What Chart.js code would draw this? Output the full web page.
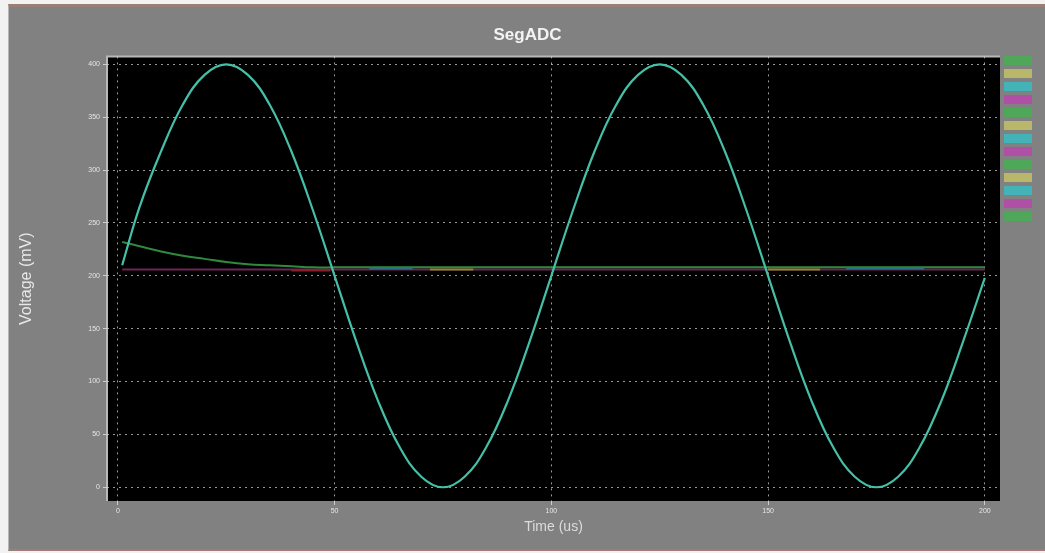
<!DOCTYPE html>
<html>
<head>
<meta charset="utf-8">
<title>SegADC</title>
<script src="https://cdn.jsdelivr.net/npm/chart.js@4.4.1/dist/chart.umd.min.js"></script>
<style>
  html, body { margin: 0; padding: 0; background: #f2f2f2; }
  #panel {
    position: absolute;
    left: 8px; top: 4px;
    width: 1037px; height: 542px;
    background: #818181;
    border-top: 3px solid #9c7f74;
    border-bottom: 2px solid #a07c78;
    border-left: 1px solid #b5b5b5;
  }
  #wrap { position: absolute; left: 0; top: 2px; width: 1037px; height: 540px; }
</style>
</head>
<body>
<div id="panel"><div id="wrap"><canvas id="chart"></canvas></div></div>
<script>
// time axis (us)
const timeTicks = [0, 50, 100, 150, 200]
const voltTicks = [0, 50, 100, 150, 200, 250, 300, 350, 400]

// main sine-like trace
const sineTime = [1, 5, 10, 15, 20, 25, 30, 35, 40, 45, 50, 55, 60, 65, 70, 75, 80, 85, 90, 95, 100,
  105, 110, 115, 120, 125, 130, 135, 140, 145, 150, 155, 160, 165, 170, 175, 180, 185, 190, 195, 200]
const sineVolt = [210, 265, 318, 362, 390, 400, 390, 362, 318, 262, 200, 138, 82, 38, 10, 0, 10, 38, 82, 138, 200,
  262, 318, 362, 390, 400, 390, 362, 318, 262, 200, 138, 82, 38, 10, 0, 10, 38, 82, 138, 198]

// green settling trace
const greenTime = [1, 5, 10, 15, 20, 25, 30, 35, 40, 45, 50, 75, 100, 125, 150, 175, 200]
const greenVolt = [232, 228, 223, 219, 216, 213, 211, 210, 209, 208, 208, 208, 208, 208, 208, 208, 208]

// flat purple baseline
const purpleTime = [1, 50, 100, 150, 200]
const purpleVolt = [206, 206, 206, 206, 206]

// short coloured segments on the baseline
const yellowTime = [72, 82, 83, 150, 162]
const yellowVolt = [206, 206, null, 206, 206]
const cyanTime = [58, 68, 69, 168, 186]
const cyanVolt = [207, 207, null, 207, 207]
const redTime = [40, 49]
const redVolt = [205, 205]

// legend swatches on the right
const legendColors = ['#4fa85a', '#b9b86a', '#44b3b8', '#b04fa6', '#4fa85a', '#b9b86a', '#44b3b8',
  '#b04fa6', '#4fa85a', '#b9b86a', '#44b3b8', '#b04fa6', '#4fa85a']

function pts(xs, ys) {
  return xs.map((x, i) => ({ x: x, y: ys[i] }))
}

// black plot area with light frame
const plotBg = {
  id: 'plotBg',
  beforeDraw(chart) {
    const { ctx, chartArea: a } = chart
    ctx.save()
    ctx.fillStyle = '#000'
    ctx.fillRect(a.left, a.top, a.right - a.left, a.bottom - a.top)
    ctx.strokeStyle = '#b8b8b8'
    ctx.lineWidth = 2
    ctx.beginPath()
    ctx.moveTo(a.left, a.bottom)
    ctx.lineTo(a.left, a.top)
    ctx.lineTo(a.right, a.top)
    ctx.stroke()
    ctx.restore()
  }
}

const ctx = document.getElementById('chart').getContext('2d')
new Chart(ctx, {
  type: 'line',
  data: {
    datasets: [
      { label: 'sine', data: pts(sineTime, sineVolt), borderColor: '#45bfa8', borderWidth: 2.2, tension: 0.4, order: 0 },
      { label: 'green', data: pts(greenTime, greenVolt), borderColor: '#2f8a3e', borderWidth: 2, tension: 0.4, order: 3 },
      { label: 'purple', data: pts(purpleTime, purpleVolt), borderColor: '#6e2456', borderWidth: 2, order: 4 },
      { label: 'yellow', data: pts(yellowTime, yellowVolt), borderColor: '#8a8a2a', borderWidth: 2, order: 2 },
      { label: 'cyan', data: pts(cyanTime, cyanVolt), borderColor: '#2a6f86', borderWidth: 2, order: 2 },
      { label: 'red', data: pts(redTime, redVolt), borderColor: '#8a1f2a', borderWidth: 2, order: 2 },
    ],
  },
  options: {
    responsive: true,
    maintainAspectRatio: false,
    animation: false,
    spanGaps: false,
    elements: { point: { radius: 0 } },
    layout: { padding: { left: 0, right: 0, top: 0, bottom: 0 } },
    scales: {
      x: {
        type: 'linear',
        min: -2.5,
        max: 203.5,
        afterBuildTicks: (s) => { s.ticks = timeTicks.map((v) => ({ value: v })) },
        afterFit: (s) => { s.height = 48 },
        grid: { color: 'rgba(215,215,215,0.7)', tickLength: 4, tickColor: '#cfcfcf' },
        border: { display: false, dash: [2, 4] },
        ticks: { color: '#e6e6e6', font: { family: 'Liberation Sans', size: 7 }, padding: 2, maxRotation: 0 },
        title: {
          display: true,
          text: 'Time (us)',
          color: '#dcdcdc',
          font: { family: 'Liberation Sans', size: 14 },
          padding: { top: 0, bottom: 13 },
        },
      },
      y: {
        min: -13,
        max: 407.5,
        afterBuildTicks: (s) => { s.ticks = voltTicks.map((v) => ({ value: v })) },
        afterFit: (s) => { s.width = 98 },
        grid: { color: 'rgba(215,215,215,0.7)', tickLength: 4, tickColor: '#cfcfcf' },
        border: { display: false, dash: [2, 4] },
        ticks: { color: '#e6e6e6', font: { family: 'Liberation Sans', size: 7 }, padding: 3 },
        title: {
          display: true,
          text: 'Voltage (mV)',
          color: '#e8e8e8',
          font: { family: 'Liberation Sans', size: 16 },
          padding: { top: 8, bottom: 0 },
        },
      },
    },
    plugins: {
      title: {
        display: true,
        text: 'SegADC',
        color: '#f4f4f4',
        font: { family: 'Liberation Sans', size: 17, weight: 'bold' },
        padding: { top: 16, bottom: 11 },
      },
      legend: {
        display: true,
        position: 'right',
        align: 'start',
        title: {
          display: true,
          text: '',
          font: { size: 10 },
          padding: { top: 31, bottom: 0 },
        },
        labels: {
          boxWidth: 28,
          boxHeight: 9,
          padding: 4,
          font: { size: 8 },
          generateLabels: () => legendColors.map((c) => ({
            text: '',
            fillStyle: c,
            strokeStyle: c,
            lineWidth: 0,
            hidden: false,
          })),
        },
      },
      tooltip: { enabled: false },
    },
  },
  plugins: [plotBg],
})
</script>
</body>
</html>
